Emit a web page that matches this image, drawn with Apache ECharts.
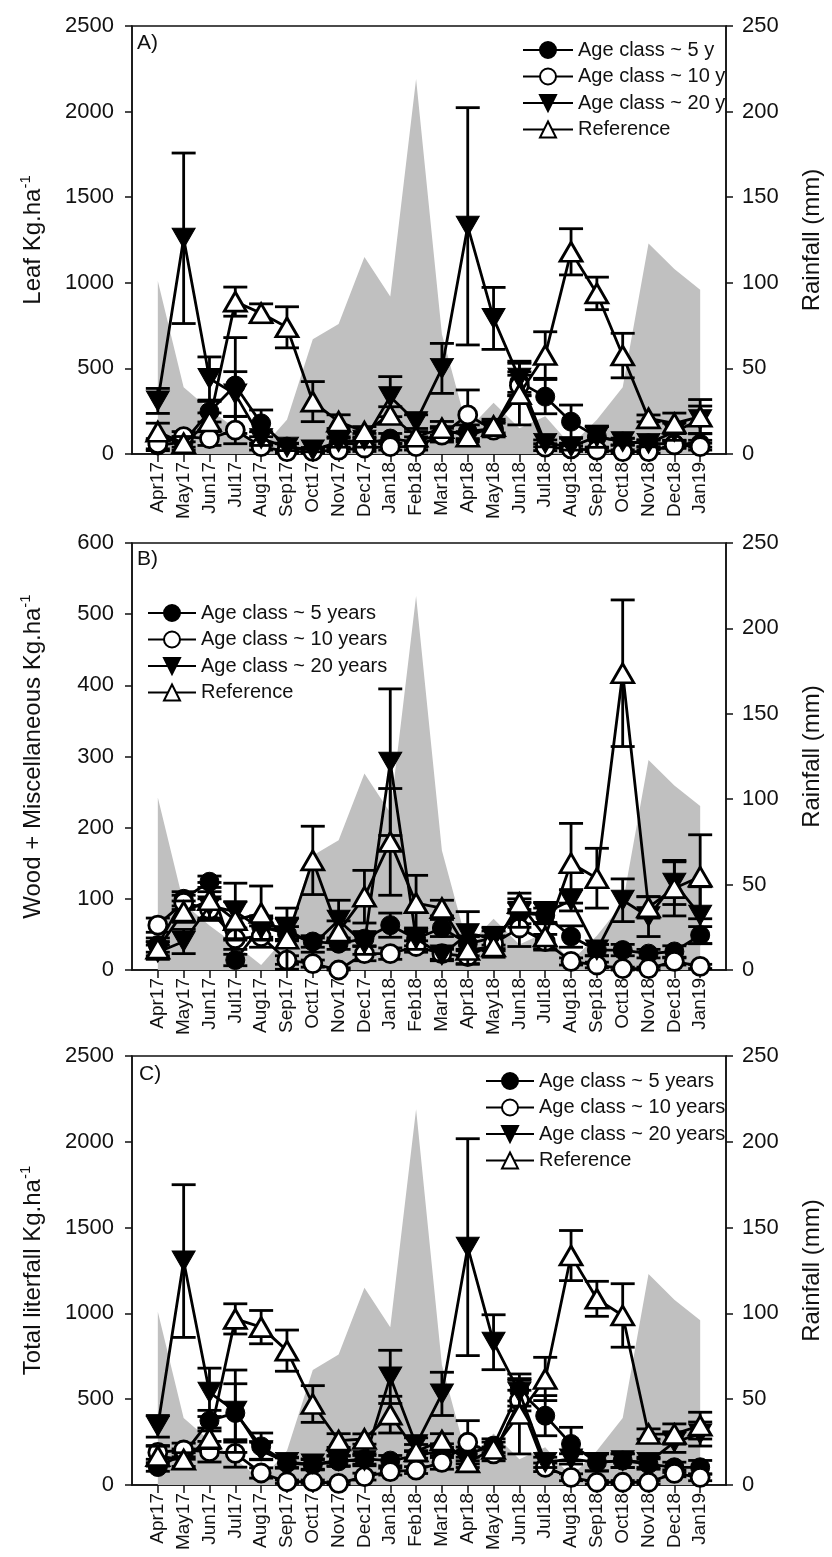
<!DOCTYPE html>
<html>
<head>
<meta charset="utf-8">
<title>Litterfall</title>
<script src="https://cdn.jsdelivr.net/npm/echarts@6/dist/echarts.min.js"></script>
<style>
  html, body { margin: 0; padding: 0; background: #fff; }
  #main { width: 832px; height: 1557px; }
</style>
</head>
<body>
<div id="main"></div>
<script>
const months = ['Apr17', 'May17', 'Jun17', 'Jul17', 'Aug17', 'Sep17', 'Oct17', 'Nov17', 'Dec17', 'Jan18', 'Feb18',
  'Mar18', 'Apr18', 'May18', 'Jun18', 'Jul18', 'Aug18', 'Sep18', 'Oct18', 'Nov18', 'Dec18', 'Jan19']

// rainfall (mm), right axis, same in every panel
const rainfall = [101, 39, 26, 15, 3, 20, 67, 76, 115, 92, 219, 70, 14, 30, 15, 22, 5, 20, 39, 123, 108, 96]

// A) leaf
const leaf5y = [50, 70, 247, 400, 179, 43, 23, 62, 60, 90, 70, 120, 130, 150, 420, 335, 189, 100, 72, 62, 60, 60]
const leaf5yErr = [30, 30, 60, 280, 78, 20, 15, 30, 30, 30, 30, 40, 40, 40, 60, 100, 97, 60, 20, 20, 20, 20]
const leaf10y = [60, 101, 90, 140, 43, 14, 15, 23, 35, 43, 43, 110, 228, 140, 400, 40, 30, 23, 14, 14, 53, 43]
const leaf10yErr = [30, 30, 40, 80, 20, 10, 10, 10, 20, 20, 20, 40, 146, 40, 60, 20, 15, 10, 10, 10, 20, 20]
const leaf20y = [310, 1260, 441, 350, 90, 40, 23, 70, 80, 335, 189, 500, 1330, 792, 442, 62, 43, 101, 72, 62, 130, 200]
const leaf20yErr = [73, 498, 126, 131, 40, 20, 10, 30, 40, 117, 40, 146, 693, 181, 100, 20, 20, 62, 20, 20, 50, 80]
const leafRef = [130, 62, 190, 890, 822, 740, 306, 189, 130, 228, 101, 150, 101, 163, 350, 578, 1181, 938, 575, 208, 179, 218]
const leafRefErr = [50, 40, 50, 85, 55, 120, 117, 40, 30, 48, 30, 40, 30, 40, 180, 136, 135, 95, 130, 20, 60, 100]

// B) wood + miscellaneous
const wood5y = [35, 100, 124, 14, 61, 51, 40, 37, 44, 63, 44, 59, 37, 45, 80, 77, 47, 28, 28, 23, 26, 49]
const wood5yErr = [10, 10, 8, 8, 15, 10, 8, 8, 10, 17, 10, 12, 10, 10, 15, 10, 15, 8, 8, 6, 8, 12]
const wood10y = [63, 95, 85, 44, 47, 14, 9, 0, 23, 23, 33, 23, 19, 37, 59, 40, 12, 7, 2, 2, 12, 5]
const wood10yErr = [10, 10, 15, 15, 15, 6, 5, 3, 10, 8, 8, 8, 10, 10, 26, 10, 5, 4, 2, 2, 5, 3]
const wood20y = [25, 40, 90, 82, 58, 58, 35, 70, 37, 292, 44, 21, 51, 45, 80, 80, 98, 28, 98, 75, 122, 77]
const wood20yErr = [10, 17, 20, 40, 15, 15, 10, 28, 15, 103, 15, 8, 31, 15, 20, 15, 15, 8, 30, 28, 30, 40]
const woodRef = [30, 82, 98, 70, 80, 44, 154, 54, 103, 180, 94, 87, 28, 33, 94, 47, 150, 129, 417, 88, 115, 131]
const woodRefErr = [10, 15, 25, 26, 38, 43, 48, 15, 37, 75, 39, 11, 20, 15, 14, 19, 56, 42, 103, 15, 39, 59]

// C) total litterfall
const total5y = [105, 180, 375, 420, 225, 128, 118, 138, 152, 142, 170, 200, 181, 229, 550, 404, 239, 132, 142, 122, 103, 103]
const total5yErr = [25, 30, 60, 170, 78, 30, 30, 30, 30, 30, 30, 40, 40, 40, 60, 117, 97, 50, 40, 30, 30, 40]
const total10y = [190, 204, 194, 184, 70, 19, 19, 10, 49, 78, 87, 132, 249, 181, 492, 103, 45, 16, 16, 16, 68, 45]
const total10yErr = [40, 40, 60, 80, 30, 10, 10, 8, 20, 20, 20, 40, 126, 40, 60, 25, 20, 10, 10, 10, 20, 20]
const total20y = [342, 1305, 540, 430, 200, 132, 122, 142, 142, 630, 235, 531, 1386, 832, 540, 132, 152, 132, 142, 132, 250, 297]
const total20yErr = [63, 445, 141, 240, 50, 30, 30, 30, 30, 155, 40, 126, 632, 160, 80, 30, 30, 50, 40, 30, 60, 70]
const totalRef = [168, 148, 272, 968, 920, 783, 472, 259, 268, 410, 196, 259, 132, 210, 414, 618, 1337, 1085, 988, 297, 297, 346]
const totalRefErr = [58, 40, 60, 88, 97, 120, 107, 40, 30, 107, 40, 40, 30, 40, 233, 126, 146, 102, 185, 30, 59, 78]

const namesShort = ['Age class ~ 5 y', 'Age class ~ 10 y', 'Age class ~ 20 y', 'Reference']
const namesLong = ['Age class ~ 5 years', 'Age class ~ 10 years', 'Age class ~ 20 years', 'Reference']

const FONT = 'Liberation Sans, Arial, sans-serif'
const INK = '#111'

// blank slot at each end so the months sit one step in from the frame
const xCats = [' '].concat(months, ['  '])

const markers = [
  { symbol: 'circle', symbolSize: 19, itemStyle: { color: '#000', borderColor: '#000', borderWidth: 1 } },
  { symbol: 'circle', symbolSize: 18, itemStyle: { color: '#fff', borderColor: '#000', borderWidth: 2.8 } },
  { symbol: 'triangle', symbolRotate: 180, symbolSize: [23, 20], itemStyle: { color: '#000', borderColor: '#000', borderWidth: 1 } },
  { symbol: 'triangle', symbolSize: [22, 19], itemStyle: { color: '#fff', borderColor: '#000', borderWidth: 2.8 } }
]

const grids = [
  { left: 132, top: 26, width: 595, height: 428 },
  { left: 132, top: 543, width: 595, height: 427 },
  { left: 132, top: 1056, width: 595, height: 429 }
]

const panels = [
  { letter: 'A)', name: 'Leaf Kg.ha', max: 2500, step: 500, names: namesShort,
    vals: [leaf5y, leaf10y, leaf20y, leafRef], errs: [leaf5yErr, leaf10yErr, leaf20yErr, leafRefErr],
    legend: { left: 517, top: 35, itemWidth: 50 }, letterPos: [137, 33] },
  { letter: 'B)', name: 'Wood + Miscellaneous Kg.ha', max: 600, step: 100, names: namesLong,
    vals: [wood5y, wood10y, wood20y, woodRef], errs: [wood5yErr, wood10yErr, wood20yErr, woodRefErr],
    legend: { left: 142, top: 598, itemWidth: 48 }, letterPos: [137, 549] },
  { letter: 'C)', name: 'Total literfall Kg.ha', max: 2500, step: 500, names: namesLong,
    vals: [total5y, total10y, total20y, totalRef], errs: [total5yErr, total10yErr, total20yErr, totalRefErr],
    legend: { left: 480, top: 1066, itemWidth: 48 }, letterPos: [139, 1064] }
]

function errorBars(api) {
  const x = api.value(0)
  const v = api.value(1)
  const e = api.value(2)
  const hi = api.coord([x, v + e])
  const lo = api.coord([x, Math.max(v - e, 0)])
  const hw = 12
  const st = { stroke: '#000', lineWidth: 2.8 }
  return {
    type: 'group',
    children: [
      { type: 'line', shape: { x1: hi[0], y1: hi[1], x2: lo[0], y2: lo[1] }, style: st },
      { type: 'line', shape: { x1: hi[0] - hw, y1: hi[1], x2: hi[0] + hw, y2: hi[1] }, style: st },
      { type: 'line', shape: { x1: lo[0] - hw, y1: lo[1], x2: lo[0] + hw, y2: lo[1] }, style: st }
    ]
  }
}

const xAxis = []
const yAxis = []
const series = []
const legend = []
const graphic = []

panels.forEach((p, g) => {
  xAxis.push({
    type: 'category', gridIndex: g, data: xCats, boundaryGap: false,
    axisLine: { lineStyle: { color: INK, width: 1.5 } },
    axisTick: { length: 8, lineStyle: { color: INK, width: 1.5 }, interval: (i, v) => v.trim() !== '' },
    axisLabel: { interval: 0, rotate: 90, margin: 8, color: INK, fontSize: 19, fontFamily: FONT },
    splitLine: { show: false }
  })
  yAxis.push({
    type: 'value', gridIndex: g, position: 'left', min: 0, max: p.max, interval: p.step,
    name: '{a|' + p.name + '}{b|-1}', nameLocation: 'middle', nameGap: 84, nameRotate: 90,
    nameTextStyle: {
      rich: {
        a: { fontSize: 24, fontFamily: FONT, color: INK, lineHeight: 30 },
        b: { fontSize: 15, fontFamily: FONT, color: INK, verticalAlign: 'top', lineHeight: 30 }
      }
    },
    axisLine: { show: true, lineStyle: { color: INK, width: 1.5 } },
    axisTick: { show: true, length: 7, lineStyle: { color: INK, width: 1.5 } },
    axisLabel: { margin: 18, color: INK, fontSize: 22, fontFamily: FONT, formatter: v => String(v) },
    splitLine: { show: false }
  })
  yAxis.push({
    type: 'value', gridIndex: g, position: 'right', min: 0, max: 250, interval: 50,
    name: 'Rainfall (mm)', nameLocation: 'middle', nameGap: 74, nameRotate: 90,
    nameTextStyle: { fontSize: 24, fontFamily: FONT, color: INK },
    axisLine: { show: true, lineStyle: { color: INK, width: 1.5 } },
    axisTick: { show: true, length: 7, lineStyle: { color: INK, width: 1.5 } },
    axisLabel: { margin: 16, color: INK, fontSize: 22, fontFamily: FONT, formatter: v => String(v) },
    splitLine: { show: false }
  })

  series.push({
    name: 'Rainfall', type: 'line', xAxisIndex: g, yAxisIndex: g * 2 + 1,
    data: rainfall.map((v, i) => [i + 1, v]),
    symbol: 'none', lineStyle: { width: 0 }, areaStyle: { color: '#c0c0c0', opacity: 1 },
    silent: true, z: 1
  })

  p.names.forEach((nm, k) => {
    series.push({
      type: 'custom', xAxisIndex: g, yAxisIndex: g * 2,
      data: p.vals[k].map((v, i) => [i + 1, v, p.errs[k][i]]),
      encode: { x: 0, y: 1 },
      renderItem: (params, api) => errorBars(api),
      silent: true, z: 3 + k * 2
    })
    series.push(Object.assign({
      name: nm, type: 'line', xAxisIndex: g, yAxisIndex: g * 2,
      data: p.vals[k].map((v, i) => [i + 1, v]),
      lineStyle: { color: '#000', width: 2.8 },
      showAllSymbol: true, animation: false, z: 4 + k * 2
    }, markers[k]))
  })

  legend.push({
    data: p.names, orient: 'vertical', left: p.legend.left, top: p.legend.top,
    itemWidth: p.legend.itemWidth, itemHeight: 20, itemGap: 6.5, selectedMode: false,
    textStyle: { fontSize: 20, fontFamily: FONT, color: INK }
  })

  graphic.push({
    type: 'text', left: p.letterPos[0], top: p.letterPos[1],
    style: { text: p.letter, fontSize: 21, fontFamily: FONT, fill: INK }
  })
})

const chart = echarts.init(document.getElementById('main'), null, { renderer: 'canvas' })
chart.setOption({
  animation: false,
  backgroundColor: '#fff',
  grid: grids.map(gr => Object.assign({ show: true, borderColor: INK, borderWidth: 1.5, backgroundColor: 'transparent' }, gr)),
  xAxis: xAxis,
  yAxis: yAxis,
  legend: legend,
  graphic: graphic,
  series: series
})
</script>
</body>
</html>
